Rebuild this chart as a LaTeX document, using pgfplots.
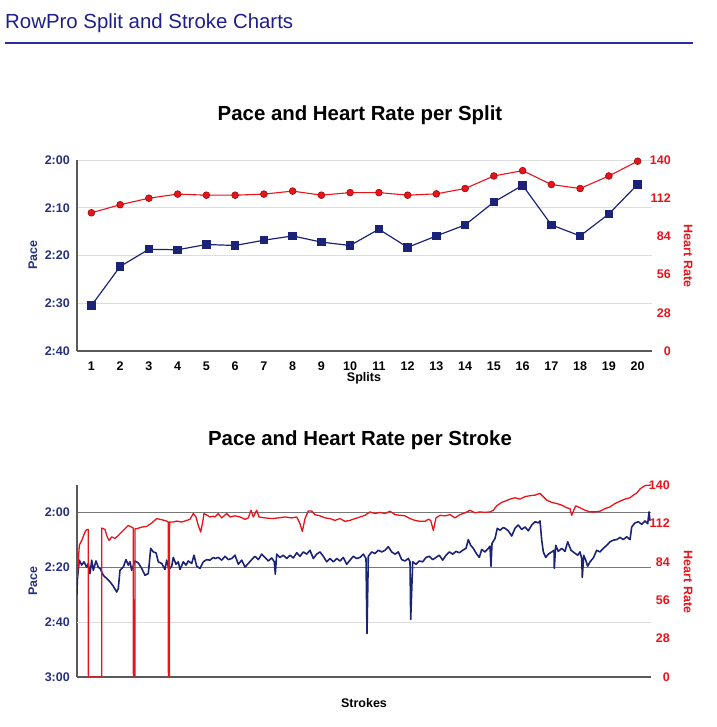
\documentclass[border=0pt]{standalone}
\usepackage{pgfplots}
\pgfplotsset{compat=1.18}
\usepackage{fontspec}
\setmainfont{Liberation Sans}
\definecolor{navyline}{HTML}{1B2378}
\definecolor{navytext}{HTML}{26307F}
\definecolor{hrred}{HTML}{E8141C}
\definecolor{hrdark}{HTML}{9A0A0A}
\definecolor{titlenavy}{HTML}{1E1E8C}
\definecolor{rulecol}{HTML}{2A2D9E}
\definecolor{gridlight}{HTML}{DDDDDD}
\definecolor{griddark}{HTML}{777777}
\definecolor{axisgray}{HTML}{5A5A5A}
\newcommand{\lab}{\bfseries\fontsize{12.5}{15}\selectfont}
\pgfplotsset{
  commonaxis/.style={scale only axis, major tick length=0pt,
    tick style={draw=none},
    /pgf/number format/assume math mode=true,
    tick label style={font=\lab}, clip=true},
}
\begin{document}
\begin{tikzpicture}[x=1pt,y=1pt]
\useasboundingbox (0,0) rectangle (716,727);
\node[anchor=base west, inner sep=0pt, text=titlenavy, font=\fontsize{20.4}{24}\selectfont] at (5,698) {RowPro Split and Stroke Charts};
\draw[rulecol, line width=2.5pt] (5,684) -- (693,684);
\node[anchor=base, inner sep=0pt, font=\bfseries\fontsize{20.4}{24}\selectfont] at (360,606.7) {Pace and Heart Rate per Split};
\node[anchor=base, inner sep=0pt, font=\bfseries\fontsize{20.4}{24}\selectfont] at (360,281.7) {Pace and Heart Rate per Stroke};
\node[rotate=90, text=navytext, font=\lab] at (33,472) {Pace};
\node[rotate=-90, text=hrred, font=\lab] at (688,471) {Heart Rate};
\node[font=\lab] at (364,349) {Splits};
\node[rotate=90, text=navytext, font=\lab] at (33,146) {Pace};
\node[rotate=-90, text=hrred, font=\lab] at (688,145) {Heart Rate};
\node[font=\lab] at (364,24) {Strokes};

% ---------------- top chart: pace ----------------
\begin{axis}[commonaxis, at={(77pt,376pt)}, anchor=south west, width=575pt, height=191pt,
  xmin=0.5, xmax=20.5, ymin=120, ymax=160, y dir=reverse,
  axis x line=none, axis y line*=left,
  y axis line style={draw=axisgray, line width=1.6pt, -},
  ytick={120,130,140,150,160}, yticklabels={2:00,2:10,2:20,2:30,2:40},
  yticklabel style={text=navytext, inner sep=0pt, xshift=-7pt},
  ymajorgrids, grid style={gridlight, line width=0.9pt}]
\addplot[navyline, line width=1.2pt, mark=square*, mark size=3.6pt, mark options={fill=navyline, draw=navyline}]
 coordinates {(1,150.5) (2,142.3) (3,138.7) (4,138.8) (5,137.7) (6,137.9) (7,136.8) (8,135.9) (9,137.2) (10,137.9)
 (11,134.5) (12,138.3) (13,135.9) (14,133.6) (15,128.8) (16,125.3) (17,133.6) (18,135.9) (19,131.3) (20,125.1)};
\end{axis}
% ---------------- top chart: heart rate ----------------
\begin{axis}[commonaxis, at={(77pt,376pt)}, anchor=south west, width=575pt, height=191pt,
  xmin=0.5, xmax=20.5, ymin=0, ymax=140,
  axis x line*=bottom, axis y line*=right,
  x axis line style={draw=axisgray, line width=1.6pt, -},
  y axis line style={draw=none},
  xtick={1,...,20}, xticklabel style={inner sep=0pt, yshift=-10.5pt},
  ytick={0,28,56,84,112,140},
  yticklabel style={text=hrred, anchor=east, inner sep=0pt, xshift=19pt}]
\addplot[hrred, line width=1.1pt, mark=*, mark size=3.4pt, mark options={fill=hrred, draw=hrdark, line width=0.6pt}]
 coordinates {(1,101.3) (2,107.2) (3,112) (4,115) (5,114.2) (6,114.2) (7,115) (8,117.2) (9,114.2) (10,116.1)
 (11,116.1) (12,114.2) (13,115.2) (14,119.1) (15,128.3) (16,132.2) (17,122) (18,119.1) (19,128.3) (20,139.1)};
\end{axis}

% ---------------- bottom chart: pace ----------------
\begin{axis}[commonaxis, at={(77pt,50pt)}, anchor=south west, width=574pt, height=192pt,
  xmin=0, xmax=574, ymin=110, ymax=180, y dir=reverse,
  axis x line=none, axis y line*=left,
  y axis line style={draw=axisgray, line width=1.6pt, -},
  ytick={120,140,180}, yticklabels={2:00,2:20,3:00},
  extra y ticks={160}, extra y tick labels={2:40},
  extra y tick style={grid style={gridlight, line width=0.9pt}},
  yticklabel style={text=navytext, inner sep=0pt, xshift=-7pt},
  ymajorgrids, grid style={griddark, line width=0.8pt}]
\addplot[navyline, line width=1.6pt, line join=round] table[row sep=\\] {
x y\\
0 150\\ 0.3 144.7\\ 2.3 137.4\\ 4.7 139.2\\ 7 138\\ 9.7 140\\ 11.3 138.6\\ 13 142.3\\ 14.7 137.4\\ 16.3 141.1\\
19 137.7\\ 21.3 140\\ 23 140.4\\ 26.3 142.9\\ 29.7 144.1\\ 33 145.3\\ 36.3 146.9\\ 39.7 149\\ 41.3 147.7\\ 43 141.1\\
46.3 139.9\\ 49 137.2\\ 51.3 139.2\\ 53 138\\ 54.7 141.1\\ 58 137.7\\ 61.3 138.4\\ 64.7 140.4\\ 68 142.9\\ 71.3 142.3\\
73.7 133.1\\ 76.3 134.4\\ 79 134.7\\ 81.3 138\\ 84.7 138.6\\ 88 140.8\\ 89.7 137.4\\ 92 140.8\\ 94.7 139.6\\ 96.3 136.4\\
99 138.9\\ 101.3 138\\ 103 140.8\\ 106.3 138\\ 109 139.2\\ 111.3 137.7\\ 114.7 138.6\\ 117 135.6\\ 119.7 139.6\\ 123 140.4\\
126.3 138\\ 129.7 137.2\\ 133 137.4\\ 136.3 136.4\\
138 136.8\\ 141.3 136.4\\ 144.7 137.4\\ 148 136\\ 151.3 137.2\\ 154.7 136.8\\ 158 135.6\\ 161.3 138.9\\ 164.7 137.4\\ 168 139.9\\
171.3 138.6\\ 174.7 137.2\\ 178 136\\ 181.3 137.2\\ 184.7 135.2\\ 188 136.4\\ 191.3 137.7\\ 194.7 136.6\\ 197.3 138\\ 198.3 142.5\\
199.7 135.2\\ 203 136.4\\ 206.3 135.6\\ 209.7 136.8\\ 213 135.6\\ 216.3 136.6\\ 219.7 134.7\\ 223 136\\ 226.3 134.4\\ 229.7 135.2\\
233 133.8\\ 236.3 136.8\\ 239.7 135.2\\ 243 134.4\\ 246.3 136\\ 249.7 138\\ 253 136.8\\ 256.3 138\\ 259.7 136.8\\ 263 137.7\\
266.3 136.4\\ 269.7 138.9\\ 273 137.4\\ 276.3 136\\ 279.7 136.8\\
283 136.4\\ 286.3 135.2\\ 289 136.8\\ 290 164.2\\ 291.3 136\\ 294.7 134.4\\ 298 135\\ 301.3 133.8\\ 304.7 134.4\\ 308 133.8\\
311.3 132.5\\ 314.7 134.4\\ 318 135.2\\ 321.3 134.4\\ 324.7 137.2\\ 328 137.7\\ 331.3 136.8\\ 333 138\\ 333.7 159\\ 335.7 138\\
339 138.9\\ 342.3 137.7\\ 345.7 138\\ 349 136.4\\ 352.3 136\\ 355.7 137.2\\ 359 136.4\\ 362.3 135.6\\ 365.7 137.4\\ 369 135.6\\
372.3 134.4\\ 375.7 135.2\\ 379 134.2\\ 382.3 134.7\\ 385.7 133.8\\ 389 133.1\\ 391.3 129.9\\ 393.7 132\\ 396.3 133.1\\ 399.7 135.2\\
402.3 136.4\\ 404.7 133.5\\ 408 134.4\\ 411.3 133.1\\ 413 132.3\\ 414 139.6\\ 415 131.3\\ 418 129.5\\ 420.3 125.8\\ 423 126.5\\
426.3 125.5\\
428 125.8\\ 431.3 126.7\\ 434.7 128.6\\ 438 125.8\\ 441.3 124.6\\ 444.7 126.2\\ 448 125.3\\ 451.3 126.7\\ 454.7 124.6\\ 458 123.4\\
461.3 123.8\\ 463 123.1\\ 464.7 130.1\\ 466.3 134.4\\ 468.7 136.4\\ 471.3 135.2\\ 474.7 134.4\\ 477 133.8\\ 477.3 140.4\\ 478.7 132\\
481.3 134.2\\ 484.7 133.1\\ 488 134.2\\ 490.7 130.7\\ 494 133.8\\ 497.3 134.7\\ 500.7 135.6\\ 503 134.4\\ 504.7 136.8\\ 505.3 143.7\\
506.7 135.6\\ 508.7 137.4\\ 510.7 139.6\\ 513 138\\ 516.3 136.6\\ 519.7 133.8\\ 523 134.4\\ 526.3 133.1\\ 529.7 132\\ 533 130.7\\
536.3 130.1\\ 539.7 129.9\\ 543 129.1\\ 546.3 129.9\\ 549.7 128.9\\ 553 129.9\\ 554.7 125.3\\ 558 123.8\\ 561.3 123.4\\ 564.7 124.3\\
568 123.1\\ 570.7 124.1\\ 572 119.8\\ 573 123\\
};
\end{axis}
% ---------------- bottom chart: heart rate ----------------
\begin{axis}[commonaxis, at={(77pt,50pt)}, anchor=south west, width=574pt, height=192pt,
  xmin=0, xmax=574, ymin=0, ymax=140,
  axis x line*=bottom, axis y line*=right,
  x axis line style={draw=axisgray, line width=1.6pt, -},
  y axis line style={draw=none},
  xtick=\empty,
  ytick={0,28,56,84,112,140},
  yticklabel style={text=hrred, anchor=east, inner sep=0pt, xshift=19pt}]
\addplot[hrred, line width=1.3pt, line join=round] table[row sep=\\] {
x y\\
0.3 73\\ 2.3 96\\ 4.7 99.5\\ 8 105.7\\ 9.7 107.6\\ 11.3 107.6\\ 11.4 0\\ 24.7 0\\ 24.8 108.6\\ 28 107.6\\
30.3 102\\ 32.3 99.5\\ 34.7 102.2\\ 38 101\\ 41.3 103.2\\ 44.7 105.7\\ 48 108.1\\ 51.3 110.5\\ 54.7 109.3\\ 56.3 108.6\\
56.4 0\\ 57.9 0\\ 58 108.1\\ 59.7 108.1\\ 64.7 109.3\\ 69.7 109.8\\ 74.7 112.3\\ 79.7 115.5\\ 84.7 114.7\\ 89.7 113.7\\
91.3 113\\ 91.4 0\\ 92.5 0\\ 92.6 113\\ 96.3 113\\ 99.7 113.7\\ 104.7 113\\ 109.7 114.2\\ 113 115\\ 116.3 119.2\\
119 116.7\\ 121.3 110.5\\ 123.7 105.7\\ 125.7 113\\ 127 119.2\\ 133 116.7\\ 136 117.2\\
138 116.7\\ 141.3 119.2\\ 144.7 116\\ 149.7 119.2\\ 153 116.7\\ 158 117.5\\ 163 116.7\\ 168 115\\ 171.3 116\\ 174 121.6\\
176.3 116.7\\ 179.7 121.6\\ 182 116.7\\ 188 116\\ 194.7 115.5\\ 201.3 116\\ 208 116.7\\ 214.7 116\\ 219.7 116.7\\ 223 111.8\\
225.3 106.1\\ 228 115.5\\ 231.3 121.1\\ 234.7 121\\ 238 118.4\\ 243 117.5\\ 248 116\\ 253 115.5\\ 258 114.2\\ 263 115.5\\
268 113.5\\ 273 114.2\\ 278 115.5\\
283 116.7\\ 288 117.9\\ 293 120.4\\ 298 119.2\\ 303 120\\ 308 119.2\\ 313 120.9\\ 318 118.4\\ 323 117.9\\ 328 117.5\\
333 115.5\\ 338 114.2\\ 343 113.5\\ 348 113.5\\ 351.3 115\\ 353.7 114.2\\ 356.3 106.9\\ 359 116\\ 363 117.9\\ 368 117.5\\
373 118.4\\ 378 116\\ 383 118.4\\ 388 119.7\\ 393 121.6\\ 398 119.7\\ 403 120.4\\ 408 120\\ 413 120.4\\ 416.3 121.6\\
419.7 124.8\\ 424.7 127.3\\
428 128.2\\ 433 129.7\\ 438 130.7\\ 443 129.7\\ 448 131.5\\ 453 132.2\\ 458 132.6\\ 463 133.9\\ 466.3 131.5\\ 469.7 129\\
474.7 127.3\\ 479.7 126.5\\ 484.7 125.3\\ 489.7 123.4\\ 493 122.8\\ 494.7 117.9\\ 496.3 120.9\\ 498.7 124.8\\ 503 123.4\\ 508 121.6\\
513 120.4\\ 518 120.4\\ 523 120.9\\ 528 122.8\\ 533 124\\ 538 126.5\\ 543 128.2\\ 548 129.7\\ 553 130.7\\ 556.3 132.6\\
559.7 134.1\\ 563 137.1\\ 568 139.6\\ 574 140\\
};
\end{axis}
\end{tikzpicture}
\end{document}
